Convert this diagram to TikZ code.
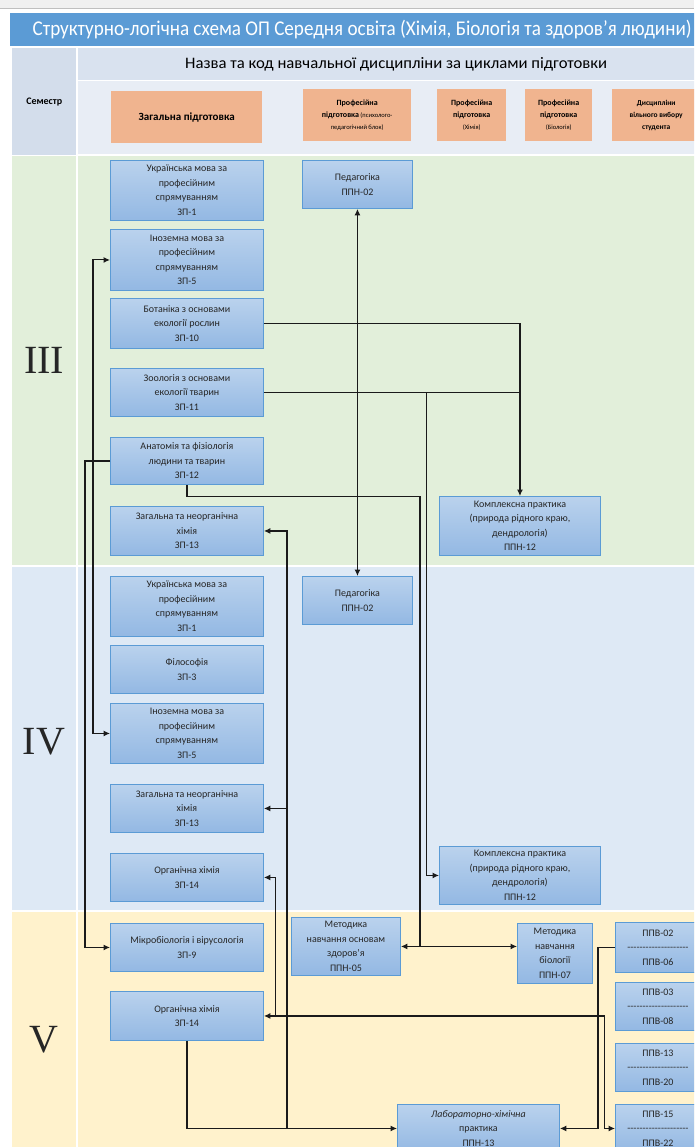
\documentclass[tikz,border=0pt]{standalone}
\usepackage{fontspec}
\usepackage{graphicx}
\setmainfont{Carlito}
\newfontfamily\romfont{Liberation Serif}
\usetikzlibrary{arrows.meta}
\definecolor{titleblue}{HTML}{5B9BD5}
\definecolor{semcol}{HTML}{D3DDEB}
\definecolor{hdrup}{HTML}{D9E2EF}
\definecolor{hdrlow}{HTML}{E8EDF5}
\definecolor{bandgreen}{HTML}{E2EFDA}
\definecolor{bandblue}{HTML}{DEE9F5}
\definecolor{bandyellow}{HTML}{FFF2CC}
\definecolor{boxtop}{HTML}{BAD2ED}
\definecolor{boxbot}{HTML}{93B8E3}
\definecolor{boxedge}{HTML}{5B9BD5}
\definecolor{boxtext}{HTML}{262626}
\definecolor{orangeF}{HTML}{F0B48F}
\definecolor{topgray}{HTML}{F0F0F0}
\definecolor{lineC}{HTML}{1A1A1A}
\newcommand\dashrow{-{}-{}-{}-{}-{}-{}-{}-{}-{}-{}-{}-{}-{}-{}-{}-{}-{}-{}-{}-}
\newcommand\mkbox[6]{\node[box,minimum width={#4-#2},minimum height={#5-#3}] (#1) at (#2,#3) {#6};}
\newcommand\hb[1]{{\bfseries\fontsize{8}{12}\selectfont #1}}
\tikzset{
  box/.style={draw=boxedge, line width=0.9pt, top color=boxtop, bottom color=boxbot,
    anchor=north west, inner sep=0pt, align=center, text=boxtext,
    font=\fontsize{10}{14.5}\selectfont},
  hbox/.style={fill=orangeF, anchor=north west, inner sep=0pt, align=center, text=black},
  cell/.style={anchor=north west, inner sep=0pt, align=center},
  conn/.style={line width=1.1pt, draw=lineC},
  roman/.style={font=\romfont\fontsize{40}{40}\selectfont, text=black!85}
}
\begin{document}
\begin{tikzpicture}[x=1pt,y=-1pt,>={Latex[length=6.5pt,width=6pt]}]
\clip (0,0) rectangle (694,1147);
\fill[white] (0,0) rectangle (694,1147);
\fill[topgray] (0,0) rectangle (694,8);
\draw[black!25, line width=0.8pt] (0,8.5) -- (694,8.5);
% title
\node[cell, fill=titleblue, minimum width=704, minimum height=33, text=white,
  font=\fontsize{21}{24}\selectfont] (title) at (10,13)
  {\resizebox{659pt}{\height}{Структурно-логічна схема ОП Середня освіта (Хімія, Біологія та здоров\symbol{39}я людини)}};
% header
\node[cell, fill=semcol, minimum width=64, minimum height=107,
  font=\bfseries\fontsize{10}{11}\selectfont] (sem) at (12,48) {Семестр};
\node[cell, fill=hdrup, minimum width=636, minimum height=32,
  font=\fontsize{16}{18}\selectfont] (cyc) at (78,48)
  {\resizebox{422pt}{\height}{Назва та код навчальної дисципліни за циклами підготовки}};
\node[cell, fill=hdrlow, minimum width=636, minimum height=73] (hdr) at (78,81) {};
\node[hbox, minimum width=151, minimum height=52, font=\bfseries\fontsize{11}{12}\selectfont] (og1) at (111,91) {Загальна підготовка};
\node[hbox, minimum width=108, minimum height=52, font=\fontsize{6.5}{12}\selectfont] (og2) at (303,89)
  {\hb{Професійна}\\\hb{підготовка} (психолого-\\педагогічний блок)};
\node[hbox, minimum width=69, minimum height=52, font=\fontsize{6.5}{12}\selectfont] (og3) at (437,89)
  {\hb{Професійна}\\\hb{підготовка}\\(Хімія)};
\node[hbox, minimum width=67, minimum height=52, font=\fontsize{6.5}{12}\selectfont] (og4) at (525,89)
  {\hb{Професійна}\\\hb{підготовка}\\(Біологія)};
\node[hbox, minimum width=88, minimum height=52, font=\bfseries\fontsize{7.5}{12}\selectfont] (og5) at (612,89)
  {Дисципліни\\вільного вибору\\студента};
% semester bands
\fill[bandgreen] (12,156) rectangle (714,565);
\fill[bandblue] (12,567) rectangle (714,910);
\fill[bandyellow] (12,912) rectangle (714,1160);
\draw[white, line width=2pt] (77,48) -- (77,1160);
\node[roman] (s3) at (44,360) {III};
\node[roman] (s4) at (44,742) {IV};
\node[roman] (s5) at (44,1040) {V};
% semester III
\mkbox{zp1a}{110}{160}{263}{220}{Українська мова за\\професійним\\спрямуванням\\ЗП-1}
\mkbox{zp5a}{110}{229}{263}{290}{Іноземна мова за\\професійним\\спрямуванням\\ЗП-5}
\mkbox{zp10}{110}{298}{263}{348}{Ботаніка з основами\\екології рослин\\ЗП-10}
\mkbox{zp11}{110}{368}{263}{416}{Зоологія з основами\\екології тварин\\ЗП-11}
\mkbox{zp12}{110}{437}{263}{484}{Анатомія та фізіологія\\людини та тварин\\ЗП-12}
\mkbox{zp13a}{110}{506}{263}{555}{Загальна та неорганічна\\хімія\\ЗП-13}
\mkbox{ped1}{302}{160}{412}{208}{Педагогіка\\ППН-02}
\mkbox{ppn12a}{439}{496}{600}{555}{Комплексна практика\\(природа рідного краю,\\дендрологія)\\ППН-12}
% semester IV
\mkbox{zp1b}{110}{576}{263}{636}{Українська мова за\\професійним\\спрямуванням\\ЗП-1}
\mkbox{zp3}{110}{645}{263}{693}{Філософія\\ЗП-3}
\mkbox{zp5b}{110}{703}{263}{763}{Іноземна мова за\\професійним\\спрямуванням\\ЗП-5}
\mkbox{zp13b}{110}{784}{263}{832}{Загальна та неорганічна\\хімія\\ЗП-13}
\mkbox{zp14a}{110}{853}{263}{901}{Органічна хімія\\ЗП-14}
\mkbox{ped2}{302}{576}{412}{624}{Педагогіка\\ППН-02}
\mkbox{ppn12b}{439}{846}{600}{904}{Комплексна практика\\(природа рідного краю,\\дендрологія)\\ППН-12}
% semester V
\mkbox{zp9}{110}{923}{263}{971}{Мікробіологія і вірусологія\\ЗП-9}
\mkbox{zp14b}{110}{991}{263}{1040}{Органічна хімія\\ЗП-14}
\mkbox{ppn05}{291}{917}{400}{975}{Методика\\навчання основам\\здоров’я\\ППН-05}
\mkbox{ppn07}{517}{923}{592}{983}{Методика\\навчання\\біології\\ППН-07}
\mkbox{lab}{397}{1104}{559}{1152}{\itshape Лабораторно-хімічна\\практика\\ППН-13}
\mkbox{ppv1}{615}{922}{700}{972}{ППВ-02\\\dashrow\\ППВ-06}
\mkbox{ppv2}{615}{982}{700}{1030}{ППВ-03\\\dashrow\\ППВ-08}
\mkbox{ppv3}{615}{1043}{700}{1091}{ППВ-13\\\dashrow\\ППВ-20}
\mkbox{ppv4}{615}{1104}{700}{1152}{ППВ-15\\\dashrow\\ППВ-22}
% connectors
\draw[conn,<->] (ped1.south) -- (ped2.north);
\draw[conn,->] (zp10.east) -| (ppn12a.north);
\draw[conn] (zp11.east) -- (zp11.east -| ppn12a.north);
\path (zp11.east) ++(163,0) coordinate (j1);
\draw[conn,->] (j1) |- (ppn12b.west);
\path (zp12.south) ++(233,12) coordinate (j2a);
\coordinate (j2) at (j2a |- ppn05.east);
\draw[conn] (zp12.south) |- (j2a) -- (j2);
\draw[conn,->] (j2) -- (ppn05.east);
\draw[conn,->] (j2) -- (j2 -| ppn07.west);
\draw[conn,<->] (zp5a.west) -- ++(-17,0) |- (zp5b.west);
\draw[conn,->] (zp12.west) -- ++(-25,0) |- (zp9.west);
\draw[conn,->] (zp14b.south) |- (lab.west);
\path (lab.west) ++(-110,0) coordinate (j3);
\draw[conn,->] (j3) |- (zp13a.east);
\draw[conn,->] (j3 |- zp13b.east) -- (zp13b.east);
\path (zp14b.east) ++(12,0) coordinate (j4);
\draw[conn,<->] (zp14b.east) -- ++(341,0) |- (ppv4.west);
\draw[conn,->] (j4) |- (zp14a.east);
\draw[conn,->] (ppv1.west) -- ++(-17,0) |- (lab.east);
\end{tikzpicture}
\end{document}
